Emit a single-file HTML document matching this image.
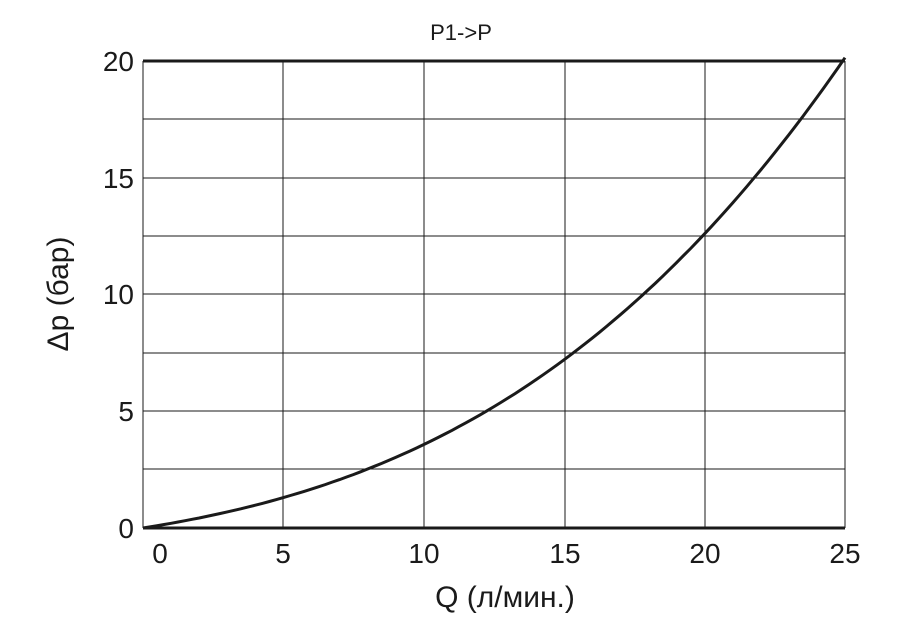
<!DOCTYPE html>
<html><head><meta charset="utf-8"><style>
html,body{margin:0;padding:0;background:#fff;width:905px;height:635px;overflow:hidden}
text{font-family:"Liberation Sans","DejaVu Sans",sans-serif;fill:#1a1a1a}
</style></head><body>
<svg id="s" width="905" height="635" xmlns="http://www.w3.org/2000/svg">
<g stroke="#1a1a1a" stroke-width="1">
<line x1="283" y1="61" x2="283" y2="528"/><line x1="424" y1="61" x2="424" y2="528"/>
<line x1="565" y1="61" x2="565" y2="528"/><line x1="705" y1="61" x2="705" y2="528"/>
<line x1="143" y1="119" x2="845" y2="119"/><line x1="143" y1="178" x2="845" y2="178"/>
<line x1="143" y1="236" x2="845" y2="236"/><line x1="143" y1="294" x2="845" y2="294"/>
<line x1="143" y1="353" x2="845" y2="353"/><line x1="143" y1="411" x2="845" y2="411"/>
<line x1="143" y1="469" x2="845" y2="469"/>
<line x1="143" y1="61" x2="143" y2="528"/><line x1="845" y1="61" x2="845" y2="528"/>
</g>
<line x1="143" y1="61" x2="845" y2="61" stroke="#1a1a1a" stroke-width="3"/>
<line x1="143" y1="528" x2="845" y2="528" stroke="#1a1a1a" stroke-width="3"/>
<path id="c" fill="none" stroke="#1a1a1a" stroke-width="3"/>
<text x="461" y="40" font-size="22" text-anchor="middle">P1-&gt;P</text>
<g font-size="28" text-anchor="end">
<text x="134" y="71">20</text><text x="134" y="188">15</text><text x="134" y="304">10</text>
<text x="134" y="421">5</text><text x="134" y="538">0</text></g>
<g font-size="28" text-anchor="middle">
<text x="160" y="563">0</text><text x="283" y="563">5</text><text x="424" y="563">10</text>
<text x="565" y="563">15</text><text x="705" y="563">20</text><text x="845" y="563">25</text></g>
<text x="505" y="607" font-size="30" text-anchor="middle">Q (л/мин.)</text>
<text transform="translate(68,294) rotate(-90)" font-size="30" text-anchor="middle">Δp (бар)</text>
</svg>
<script>
var d="";for(var i=0;i<=100;i++){var q=i*0.25;var p=0.19*q+0.0115*q*q+0.000525*q*q*q;
var x=143+q*28.08,y=528-p*23.35;d+=(i?"L":"M")+x.toFixed(1)+","+y.toFixed(1);}
document.getElementById("c").setAttribute("d",d);
</script>
</body></html>
